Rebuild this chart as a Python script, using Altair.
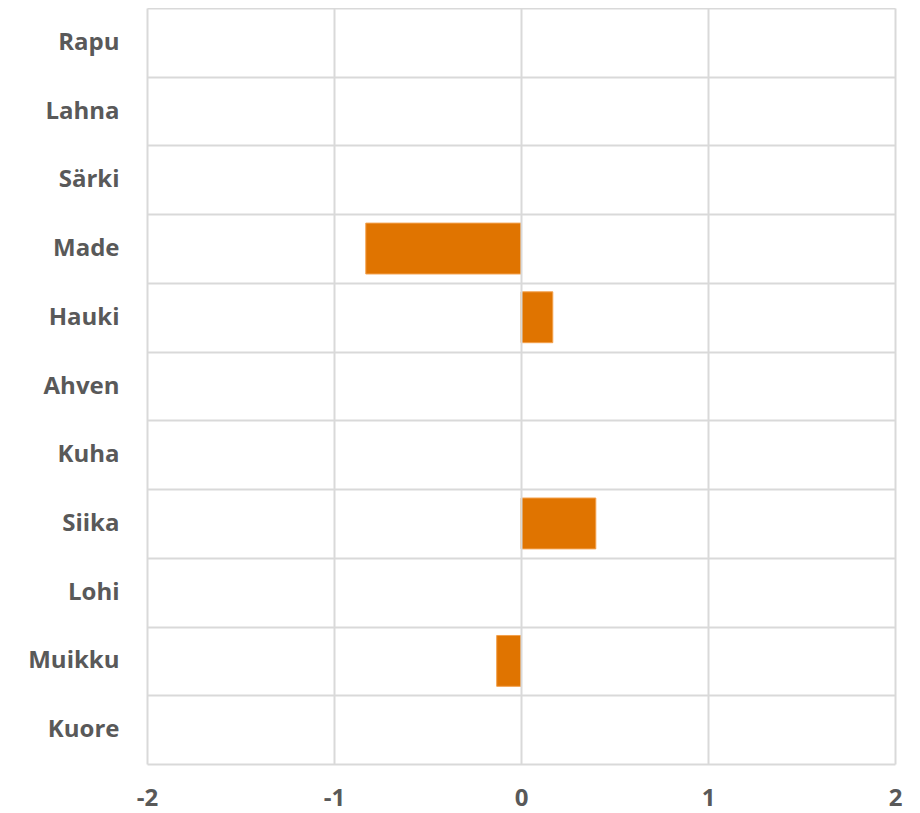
import altair as alt
import pandas as pd

categories = ["Rapu", "Lahna", "Särki", "Made", "Hauki", "Ahven", "Kuha", "Siika", "Lohi", "Muikku", "Kuore"]
values = [None, None, None, -0.83, 0.17, None, None, 0.40, None, -0.13, None]
x_ticks = [-2, -1, 0, 1, 2]

df = pd.DataFrame({"laji": categories, "arvo": values})

font = "Open Sans"
label_color = "#595959"
grid_color = "#D9D9D9"

chart = alt.Chart(df).transform_filter(
    "isValid(datum.arvo)"
).mark_bar(
    color="#E07400", stroke="#F3A04C", strokeWidth=1, height={"band": 0.74}
).encode(
    x=alt.X("arvo:Q",
            scale=alt.Scale(domain=[-2, 2], nice=False, zero=False),
            axis=alt.Axis(values=x_ticks, title=None, grid=True, gridColor=grid_color,
                          gridWidth=2, domain=False, ticks=False, labelFont=font,
                          labelFontSize=24, labelFontWeight="bold", labelColor=label_color,
                          labelPadding=22, zindex=1, labelFlush=False,
                          labelExpr="'' + datum.value")),
    y=alt.Y("laji:N",
            scale=alt.Scale(domain=categories, paddingInner=0, paddingOuter=0),
            sort=categories,
            axis=alt.Axis(title=None, grid=True, tickBand="extent", gridColor=grid_color,
                          gridWidth=2, domain=False, ticks=False, labelFont=font,
                          labelFontSize=24, labelFontWeight="bold", labelColor=label_color,
                          labelPadding=28, zindex=0)),
).properties(
    width=748, height=756,
    autosize=alt.AutoSizeParams(type="none"),
    padding={"left": 139, "top": 0, "right": 17, "bottom": 48},
).configure_view(stroke=None)

chart.save("out.html", embed_options={"renderer": "svg", "actions": False})
